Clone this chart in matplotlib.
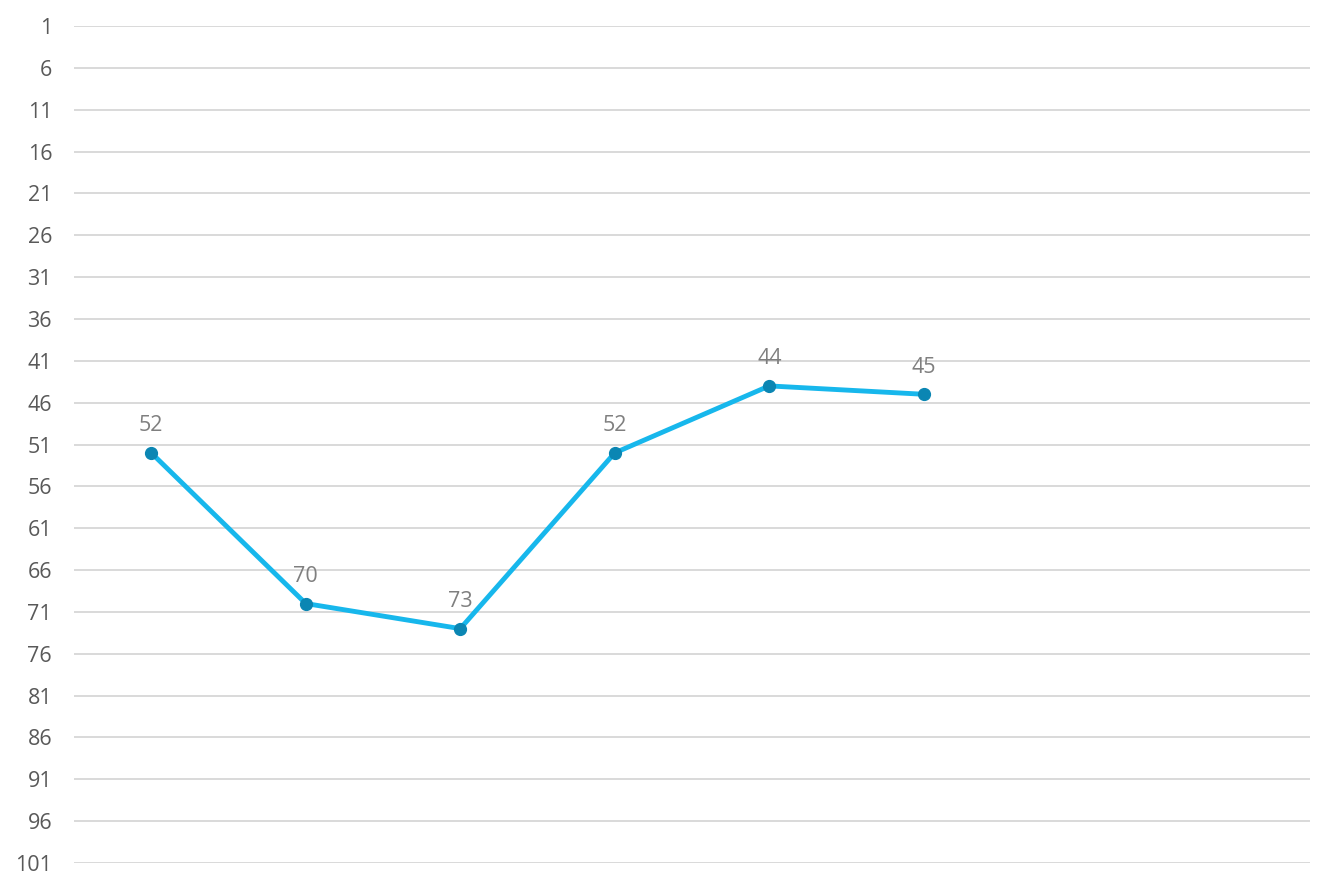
import matplotlib
matplotlib.use("Agg")
import matplotlib.pyplot as plt

categories = ["1", "2", "3", "4", "5", "6", "7", "8"]
values = [52, 70, 73, 52, 44, 45]
yticks = list(range(1, 102, 5))

plt.rcParams['font.family'] = ['Open Sans', 'DejaVu Sans']

fig = plt.figure(figsize=(13.34, 8.89), dpi=100)
ax = fig.add_axes([74/1334, 1-863/889, (1310-74)/1334, (863-26)/889])

x = list(range(len(values)))
ax.plot(x, values, color="#17B7EC", lw=3.5, solid_capstyle="round", zorder=3)
ax.plot(x, values, 'o', color="#0B86B3", ms=8.5, zorder=4)
for xi, v in zip(x, values):
    ax.annotate(str(v), (xi, v), xytext=(0, 12), textcoords="offset points",
                ha="center", va="bottom", fontsize=15.5, color="#7F7F7F")

ax.set_xlim(-0.5, len(categories) - 0.5)
ax.set_ylim(101, 1)
ax.set_yticks(yticks)
ax.set_yticklabels([str(t) for t in yticks])
ax.set_xticks([])
ax.tick_params(axis='y', length=0, pad=15.8, labelsize=15.5, labelcolor="#595959")
ax.grid(axis='y', color="#D9D9D9", lw=1.4)
ax.set_axisbelow(True)
for s in ax.spines.values():
    s.set_visible(False)

fig.savefig("out.png", dpi=100)
